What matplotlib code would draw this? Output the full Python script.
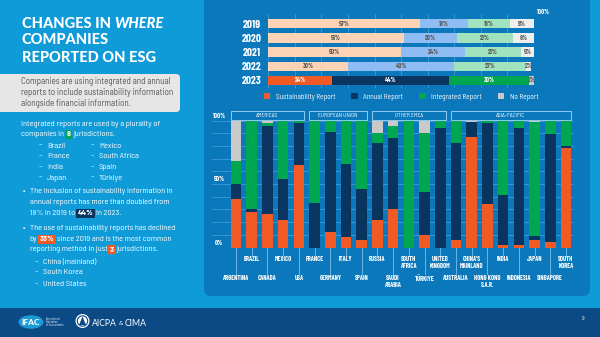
import matplotlib
matplotlib.use('Agg')
import matplotlib.pyplot as plt
from matplotlib import font_manager
from matplotlib.patches import Rectangle, FancyBboxPatch, Ellipse, Circle, Polygon, Patch
from matplotlib.transforms import blended_transform_factory
import numpy as np


def pick(*names):
    for n in names:
        try:
            font_manager.findfont(font_manager.FontProperties(family=n), fallback_to_default=False)
            return n
        except Exception:
            pass
    return 'DejaVu Sans'


NARROW = pick('Barlow Condensed', 'Liberation Sans Narrow', 'DejaVu Sans')
BODY = pick('Barlow Semi Condensed', 'Barlow', 'Roboto', 'DejaVu Sans')
TITLE = pick('Lato', 'Roboto', 'DejaVu Sans')

# ---------------- data ----------------
years = ['2019', '2020', '2021', '2022', '2023']
sust_year = [57, 51, 50, 30, 24]
annual_year = [18, 20, 24, 40, 44]
integ_year = [16, 21, 21, 27, 30]
none_year = [9, 8, 5, 2, 2]

countries = ['ARGENTINA', 'BRAZIL', 'CANADA', 'MEXICO', 'USA',
             'FRANCE', 'GERMANY', 'ITALY', 'SPAIN',
             'RUSSIA', 'SAUDI\nARABIA', 'SOUTH\nAFRICA', 'TÜRKIYE', 'UNITED\nKINGDOM',
             'AUSTRALIA', "CHINA'S\nMAINLAND", 'HONG KONG\nS.A.R.', 'INDIA', 'INDONESIA',
             'JAPAN', 'SINGAPORE', 'SOUTH\nKOREA']
sust = [38, 28, 26, 22, 65, 0, 12, 8, 6, 22, 30, 0, 10, 0, 6, 87, 34, 2, 2, 6, 4, 78]
annual = [12, 2, 70, 32, 33, 35, 79, 58, 40, 60, 56, 0, 34, 94, 76, 12, 64, 39, 92, 3, 85, 2]
integ = [18, 70, 2, 46, 2, 65, 9, 34, 54, 8, 10, 100, 46, 6, 18, 0, 2, 59, 6, 90, 11, 20]
norep = [32, 0, 2, 0, 0, 0, 0, 0, 0, 10, 4, 0, 10, 0, 0, 1, 0, 0, 0, 1, 0, 0]
regions = [('AMERICAS', 0, 4), ('EUROPEAN UNION', 5, 8), ('OTHER EMEA', 9, 13), ('ASIA-PACIFIC', 14, 21)]

legend_labels = ['Sustainability Report', 'Annual Report', 'Integrated Report', 'No Report']

# ---------------- colours ----------------
BG = '#0f9ad8'
PANEL = '#0a78bb'
FOOT = '#0c4a86'
GRID = '#3f9bd4'
ORANGE = '#f15a24'
NAVY = '#0b3561'
GREEN = '#00a650'
GRAY = '#c9c9c9'
PALE = ['#fdd3b5', '#8ebcf3', '#9fe3bf', '#eeeeee']
STRONG = [ORANGE, NAVY, GREEN, GRAY]

fig = plt.figure(figsize=(6, 3.37), dpi=100)
fig.patch.set_facecolor(BG)

ax0 = fig.add_axes([0, 0, 1, 1])
ax0.set_xlim(0, 600)
ax0.set_ylim(337, 0)
ax0.axis('off')
renderer = fig.canvas.get_renderer()

# background panels
ax0.add_patch(FancyBboxPatch((204, -20), 386, 316, boxstyle='round,pad=0,rounding_size=7',
                             fc=PANEL, ec='none', zorder=0))
ax0.add_patch(Rectangle((0, 308), 600, 30, fc=FOOT, ec='none', zorder=0))


# ---------------- left text ----------------
def width_of(t):
    return t.get_window_extent(renderer).width


def inline(parts, x, y, size, family, color='white', weight='normal', gap=0.0):
    for s, hl, style in parts:
        kw = dict(fontsize=size, color=color, family=family, va='center', ha='left',
                  weight=weight, style=style)
        if hl:
            x += 1.0
            kw.update(bbox=dict(boxstyle='square,pad=0.2', fc=hl, ec='none'), weight='bold',
                      color='white')
        t = ax0.text(x, y, s, **kw)
        x += width_of(t) + gap
        if hl:
            x += 1.0


bfs = 6.0
_a = ax0.text(0, 0, 'a a', fontsize=bfs, family=BODY)
_b = ax0.text(0, 0, 'aa', fontsize=bfs, family=BODY)
SP = width_of(_a) - width_of(_b)
_a.remove(); _b.remove()

tfs = 10.5
TW = 'black'
_a = ax0.text(0, 0, 'A A', fontsize=tfs, family=TITLE, weight=TW)
_b = ax0.text(0, 0, 'AA', fontsize=tfs, family=TITLE, weight=TW)
TSP = width_of(_a) - width_of(_b)
_a.remove(); _b.remove()

inline([('CHANGES IN', None, 'normal'), ('WHERE', None, 'italic')], 21.5, 23.5, tfs, TITLE,
       weight=TW, gap=TSP)
ax0.text(21.5, 40.5, 'COMPANIES', fontsize=tfs, color='white', family=TITLE, weight=TW, va='center')
ax0.text(21.5, 57.5, 'REPORTED ON ESG', fontsize=tfs, color='white', family=TITLE, weight=TW, va='center')

ax0.add_patch(FancyBboxPatch((-10, 74), 190, 38, boxstyle='round,pad=0,rounding_size=4',
                             fc='#e6e6e6', ec='none'))
for yy, s in zip([82, 92.7, 103.5], ['Companies are using integrated and annual',
                                     'reports to include sustainability information',
                                     'alongside financial information.']):
    ax0.text(21, yy, s, fontsize=6.4, color='#555555', family=BODY, va='center')

inline([('Integrated reports are used by a plurality of', None, 'normal')], 21, 125, bfs, BODY)
inline([('companies in', None, 'normal'), ('8', GREEN, 'normal'), ('jurisdictions.', None, 'normal')],
       21, 134.5, bfs, BODY, gap=SP)
for yy, a, b in zip([146, 156.7, 167.3, 178], ['Brazil', 'France', 'India', 'Japan'],
                    ['Mexico', 'South Africa', 'Spain', 'Türkiye']):
    ax0.text(39, yy, '–', fontsize=bfs, color='white', family=BODY, va='center')
    ax0.text(47, yy, a, fontsize=bfs, color='white', family=BODY, va='center')
    ax0.text(91, yy, '–', fontsize=bfs, color='white', family=BODY, va='center')
    ax0.text(99, yy, b, fontsize=bfs, color='white', family=BODY, va='center')

ax0.text(23, 191.7, '•', fontsize=bfs, color='white', family=BODY, va='center')
inline([('The inclusion of sustainability information in', None, 'normal')], 29.5, 191.7, bfs, BODY)
inline([('annual reports has more than doubled from', None, 'normal')], 29.5, 202.5, bfs, BODY)
inline([('18% in 2019 to', None, 'normal'), ('44%', NAVY, 'normal'), ('in 2023.', None, 'normal')],
       29.5, 213.3, bfs, BODY, gap=SP)

ax0.text(23, 228.3, '•', fontsize=bfs, color='white', family=BODY, va='center')
inline([('The use of sustainability reports has declined', None, 'normal')], 29.5, 228.3, bfs, BODY)
inline([('by', None, 'normal'), ('33%', ORANGE, 'normal'),
        ('since 2019 and is the most common', None, 'normal')], 29.5, 239.3, bfs, BODY, gap=SP)
inline([('reporting method in just', None, 'normal'), ('3', ORANGE, 'normal'),
        ('jurisdictions.', None, 'normal')], 29.5, 249.5, bfs, BODY, gap=SP)
for yy, s in zip([262.3, 272.8, 284.3], ['China (mainland)', 'South Korea', 'United States']):
    ax0.text(35, yy, '–', fontsize=bfs, color='white', family=BODY, va='center')
    ax0.text(43, yy, s, fontsize=bfs, color='white', family=BODY, va='center')

# footer logos
ax0.add_patch(Ellipse((31, 322), 25, 13.5, fc='#1b9ad6', ec='none'))
ax0.text(31, 322.3, 'IFAC', fontsize=6, color='white', family=TITLE, weight=TW,
         ha='center', va='center')
for yy, s in zip([318.5, 321.8, 325.1], ['International', 'Federation', 'of Accountants']):
    ax0.text(45.5, yy, s, fontsize=2.2, color='white', family=BODY, va='center')
ax0.add_patch(Circle((82.5, 321), 7, fc='white', ec='none'))
ax0.add_patch(Polygon([[79, 325], [82.5, 316.5], [86, 325]], closed=True, fc=FOOT, ec='none'))
ax0.add_patch(Circle((82.5, 321), 5.2, fc='none', ec=FOOT, lw=0.8))
ta = ax0.text(92, 323, 'AICPA', fontsize=6.2, color='white', family=TITLE, va='center')
xa = 92 + width_of(ta) + 1.8
tb = ax0.text(xa, 323.5, '&', fontsize=4.3, color='white', family=TITLE, va='center')
xb = xa + width_of(tb) + 1.8
ax0.text(xb, 323, 'CIMA', fontsize=6.2, color='white', family=TITLE, va='center')
ax0.text(583, 318, '9', fontsize=4, color='white', family=BODY, va='center', ha='center')

# ---------------- top chart ----------------
px_top, px_bot = 13.9, 87.6
axT = fig.add_axes([268.3 / 600, 1 - px_bot / 337, (534 - 268.3) / 600, (px_bot - px_top) / 337])
axT.set_facecolor('none')
yy = np.arange(len(years))
left = np.zeros(len(years))
for k, series in enumerate([sust_year, annual_year, integ_year, none_year]):
    vals = np.array(series, dtype=float)
    cols = [PALE[k]] * 4 + [STRONG[k]]
    axT.barh(yy, vals, left=left, height=0.66, color=cols, edgecolor='none', zorder=2)
    for i, v in enumerate(vals):
        c = '#5a5a5a'
        if i == 4 and k in (0, 1, 2):
            c = 'white'
        axT.text(left[i] + v / 2, yy[i], f'{int(v)}%', ha='center', va='center', fontsize=4.8,
                 color=c, family=NARROW, weight='bold', zorder=3)
    left += vals
axT.set_xlim(0, 100)
axT.set_ylim(4.5, -0.69)
axT.set_xticks(np.arange(0, 101, 10))
axT.grid(axis='x', color=GRID, lw=0.6)
axT.set_axisbelow(True)
axT.tick_params(axis='x', length=0, labelbottom=False)
axT.set_yticks(yy)
axT.set_yticklabels(years, fontsize=8, color='white', family=NARROW, weight='bold')
axT.tick_params(axis='y', length=0, pad=5)
for s in axT.spines.values():
    s.set_visible(False)
axT.text(101.2, -0.85, '100%', fontsize=4.8, color='white', family=NARROW, weight='bold',
         ha='left', va='center', clip_on=False)

handles = [Patch(fc=c, ec='none') for c in STRONG]
fig.legend(handles, legend_labels, loc='center', bbox_to_anchor=(401 / 600, 1 - 97 / 337), ncol=4,
           frameon=False, handlelength=0.9, handleheight=0.9, columnspacing=2.2,
           handletextpad=0.7, labelcolor='white', prop={'family': BODY, 'size': 5.3})

# ---------------- bottom chart ----------------
c0, dx = 236.0, 15.714
p_top, p_bot = 120.5, 247.5
xl = (212 - c0) / dx
xr = (574 - c0) / dx
axB = fig.add_axes([212 / 600, 1 - p_bot / 337, (574 - 212) / 600, (p_bot - p_top) / 337])
axB.set_facecolor('none')
x = np.arange(len(countries))
bottom = np.zeros(len(countries))
for k, series in enumerate([sust, annual, integ, norep]):
    vals = np.array(series, dtype=float)
    axB.bar(x, vals, bottom=bottom, width=0.68, color=STRONG[k], edgecolor='none', zorder=2)
    bottom += vals
axB.set_xlim(xl, xr)
axB.set_ylim(0, 100)
axB.set_yticks(np.arange(0, 101, 10))
axB.grid(axis='y', color=GRID, lw=0.6)
axB.set_axisbelow(True)
axB.tick_params(length=0, labelleft=False, labelbottom=False)
for s in axB.spines.values():
    s.set_visible(False)
for v in (0, 50, 100):
    axB.text(-1.08, v + 1.5, f'{v}%', fontsize=4.8, color='white', family=NARROW, weight='bold',
             ha='center', va='bottom', clip_on=False)

tr = blended_transform_factory(axB.transData, ax0.transData)
for i, name in enumerate(countries):
    upper = (i % 2 == 1)
    ytop = 256 if upper else 275
    ax0.plot([i, i], [p_bot, ytop - 1.5], transform=tr, color='#8cc4ea', lw=0.55)
    ax0.text(i, ytop, name, transform=tr, fontsize=4.7, color='white', family=NARROW, weight='bold',
             ha='center', va='top', linespacing=1.2)

for name, a, b in regions:
    ax0.add_patch(Rectangle((a - 0.34, 111), (b - a) + 0.68, 9, transform=tr, fc='none',
                            ec='#8fcbf0', lw=0.7))
    ax0.text((a + b) / 2, 115.6, name, transform=tr, fontsize=4.0, color='white', family=BODY,
             ha='center', va='center')

fig.savefig('out.png', dpi=100, facecolor=fig.get_facecolor())
